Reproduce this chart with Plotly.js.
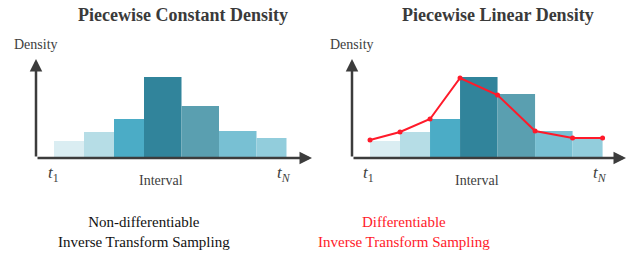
<!DOCTYPE html>
<html>
<head>
<meta charset="utf-8">
<script src="https://cdn.plot.ly/plotly-3.0.1.min.js"></script>
<style>html,body{margin:0;padding:0;background:#fff;}#chart{width:633px;height:254px;}</style>
</head>
<body>
<div id="chart"></div>
<script>
// Bin edges (interval axis units) and densities
const binEdges = [0.6, 1.6, 2.6, 3.6, 4.85, 6.1, 7.35, 8.35];
const constantDensity = [1.7, 2.6, 3.9, 8.1, 5.2, 2.7, 2.0];
const linearBarDensity = [1.7, 2.6, 3.9, 8.1, 6.4, 2.7, 2.0];
const linearPointDensity = [1.8, 2.6, 3.9, 8.0, 6.3, 2.7, 2.0, 2.0];
const barColors = ['#daedf2', '#b6dde6', '#4bacc6', '#31849b', '#5a9fb0', '#78c0d3', '#92cddc'];
const titles = ['Piecewise Constant Density', 'Piecewise Linear Density'];
const captions = ['Non-differentiable<br>Inverse Transform Sampling', 'Differentiable<br>Inverse Transform Sampling'];

const centers = binEdges.slice(0, -1).map((e, i) => (e + binEdges[i + 1]) / 2);
const widths = binEdges.slice(0, -1).map((e, i) => binEdges[i + 1] - e);

const traces = [
  {type: 'bar', x: centers, y: constantDensity, width: widths, marker: {color: barColors, line: {width: 0}},
   xaxis: 'x', yaxis: 'y', hoverinfo: 'skip'},
  {type: 'bar', x: centers, y: linearBarDensity, width: widths, marker: {color: barColors, line: {width: 0}},
   xaxis: 'x2', yaxis: 'y2', hoverinfo: 'skip'},
  {type: 'scatter', mode: 'lines+markers', x: binEdges, y: linearPointDensity,
   line: {color: '#ff1a2a', width: 2}, marker: {color: '#ff1a2a', size: 5},
   xaxis: 'x2', yaxis: 'y2', hoverinfo: 'skip'}
];

const hid = {showgrid: false, zeroline: false, showticklabels: false, showline: false, ticks: '', fixedrange: true};
const axisColor = '#3c3c3c';
const SERIF = 'Liberation Serif';
const labelFont = {family: SERIF, size: 14, color: '#404040'};
const tFont = {family: SERIF, size: 17, color: '#404040'};

function axisAnns(xr, yr, xmax, ymax) {
  return [
    {xref: xr, yref: yr, axref: xr, ayref: yr, x: xmax, y: 0, ax: 0, ay: 0, showarrow: true,
     arrowhead: 2, arrowsize: 1, arrowwidth: 2.5, arrowcolor: axisColor, text: ''},
    {xref: xr, yref: yr, axref: xr, ayref: yr, x: 0, y: ymax, ax: 0, ay: 0, showarrow: true,
     arrowhead: 2, arrowsize: 1, arrowwidth: 2.5, arrowcolor: axisColor, text: ''}
  ];
}

function lbl(px, py, text, font) {
  return {xref: 'paper', yref: 'paper', x: px/633, y: 1 - py/254, text: text, showarrow: false,
          font: font, xanchor: 'center', yanchor: 'middle'};
}

const titleFont = {family: SERIF, size: 18, color: '#3a3a3a'};
const annotations = [
  ...axisAnns('x', 'y', 9.2, 9.9),
  ...axisAnns('x2', 'y2', 9.13, 9.9),
  lbl(183, 15, '<b>' + titles[0] + '</b>', titleFont),
  lbl(498, 15, '<b>' + titles[1] + '</b>', titleFont),
  lbl(35.5, 44, 'Density', labelFont),
  lbl(351.5, 44, 'Density', labelFont),
  lbl(161, 180, 'Interval', labelFont),
  lbl(477, 180, 'Interval', labelFont),
  lbl(53, 174, '<i>t</i><sub>1</sub>', tFont),
  lbl(284, 174, '<i>t</i><sub><i>N</i></sub>', tFont),
  lbl(368, 174, '<i>t</i><sub>1</sub>', tFont),
  lbl(600, 174, '<i>t</i><sub><i>N</i></sub>', tFont),
  lbl(144, 232, captions[0], {family: SERIF, size: 15, color: '#111111'}),
  lbl(404, 232, captions[1], {family: SERIF, size: 15, color: '#ff1a2a'})
];

const layout = {
  width: 633, height: 254,
  margin: {l: 0, r: 0, t: 0, b: 0},
  paper_bgcolor: '#ffffff', plot_bgcolor: 'rgba(0,0,0,0)',
  showlegend: false,
  font: {family: SERIF},
  xaxis: Object.assign({domain: [36/633, 312/633], range: [0, 9.2]}, hid),
  yaxis: Object.assign({domain: [(254-158)/254, (254-59)/254], range: [0, 9.9]}, hid),
  xaxis2: Object.assign({domain: [352/633, 626/633], range: [0, 9.13], anchor: 'y2'}, hid),
  yaxis2: Object.assign({domain: [(254-158)/254, (254-59)/254], range: [0, 9.9], anchor: 'x2'}, hid),
  annotations: annotations
};

Plotly.newPlot('chart', traces, layout, {staticPlot: true, displayModeBar: false});
</script>
</body>
</html>
